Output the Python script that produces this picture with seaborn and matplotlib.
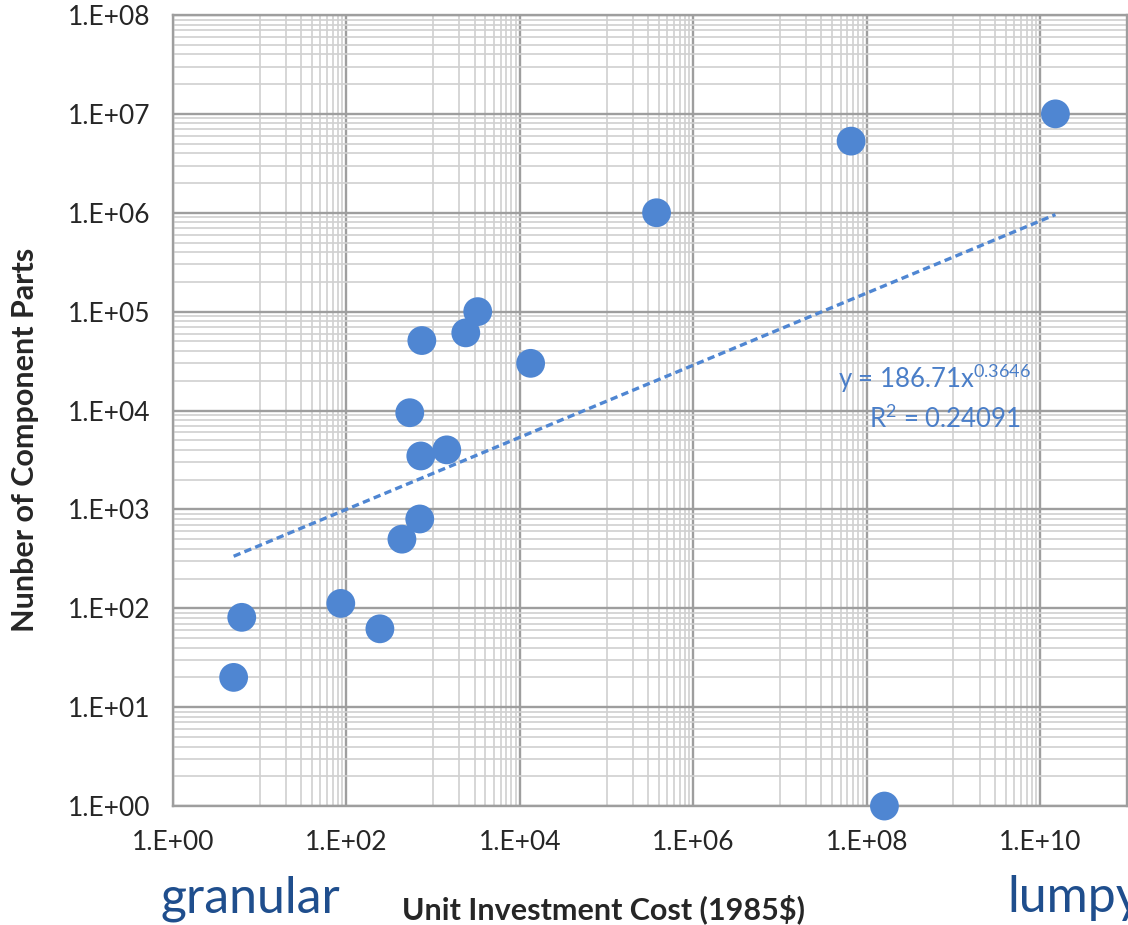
import numpy as np
import pandas as pd
import seaborn as sns
from matplotlib import pyplot as plt
from matplotlib import ticker

# data
unit_cost = [5.0, 6.2, 86, 243, 436, 700, 537, 720, 1435, 740, 2377, 3265, 13300, 377000, 6.6e7, 1.5e10, 1.6e8]
n_parts = [20, 81, 112, 62, 500, 800, 9500, 3470, 4000, 51000, 61000, 100000, 30000, 1.0e6, 5.3e6, 1.0e7, 1.0]

# power-law trendline shown on the chart
fit_a = 186.71
fit_b = 0.3646
fit_r2 = 0.24091

df = pd.DataFrame({"cost": unit_cost, "parts": n_parts})
x_fit = np.array([min(unit_cost), max(unit_cost)])
fit_df = pd.DataFrame({"cost": x_fit, "parts": fit_a * x_fit ** fit_b})

sns.set_style("white")
plt.rcParams['font.family'] = ['Lato', 'DejaVu Sans']

dot_blue = "#4f86d2"
fig = plt.figure(figsize=(11.28, 9.25), dpi=100)
ax = fig.add_axes([0.1534, 0.1286, 0.8456, 0.8552])

ax.set_xscale("log")
ax.set_yscale("log")
ax.set_xlim(1, 1e11)
ax.set_ylim(1, 1e8)

sns.lineplot(data=fit_df, x="cost", y="parts", ax=ax, color=dot_blue,
             linestyle=(0, (2.2, 1.3)), linewidth=2.4, zorder=3)
sns.scatterplot(data=df, x="cost", y="parts", ax=ax, color=dot_blue,
                s=430, edgecolor="none", zorder=4, clip_on=False)

# excel-ish log grid: x in steps of 100, y in steps of 10
ax.xaxis.set_major_locator(ticker.LogLocator(base=100, numticks=20))
x_minor = [m * 10.0 ** (2 * k + 1) for k in range(5) for m in range(1, 10)]
ax.xaxis.set_minor_locator(ticker.FixedLocator(x_minor))
ax.yaxis.set_major_locator(ticker.LogLocator(base=10, numticks=20))
ax.yaxis.set_minor_locator(ticker.LogLocator(base=10, subs=np.arange(2, 10), numticks=20))

fmt = ticker.FuncFormatter(lambda v, p: "1.E+%02d" % int(round(np.log10(v))))
ax.xaxis.set_major_formatter(fmt)
ax.yaxis.set_major_formatter(fmt)
ax.xaxis.set_minor_formatter(ticker.NullFormatter())
ax.yaxis.set_minor_formatter(ticker.NullFormatter())

ax.grid(which="major", color="#9e9e9e", linewidth=1.7)
ax.grid(which="minor", color="#d0d0d0", linewidth=1.2)
ax.set_axisbelow(True)
for s in ax.spines.values():
    s.set_color("#9e9e9e")
    s.set_linewidth(1.7)

ax.tick_params(which="major", direction="out", length=5, width=1.7, color="#9e9e9e",
               labelsize=19, pad=11)
ax.tick_params(which="minor", length=0)
ax.tick_params(axis="x", pad=12)

ax.set_xlabel("Unit Investment Cost (1985$)", fontsize=22, fontweight="bold")
ax.set_ylabel("Nunber of Component Parts", fontsize=22, fontweight="bold")
ax.xaxis.set_label_coords(0.451, -0.131)
ax.xaxis.label.set_va("center")
ax.yaxis.set_label_coords(-0.155, 0.463)
ax.yaxis.label.set_va("center")

ax.text(6e8, 2.1e4, "y = 186.71x$^{\\mathregular{0.3646}}$", color="#4a7ec8",
        fontsize=18.5, ha="center", va="center")
ax.text(8e8, 8.2e3, "R$^{\\mathregular{2}}$ = %.5f" % fit_r2, color="#4a7ec8",
        fontsize=18.5, ha="center", va="center")

fig.text(0.222, 0.014, "granular", color="#1f4e8d", fontsize=36, ha="center", va="baseline")
fig.text(0.893, 0.014, "lumpy", color="#1f4e8d", fontsize=36, ha="left", va="baseline")

fig.savefig("out.png", dpi=100)
